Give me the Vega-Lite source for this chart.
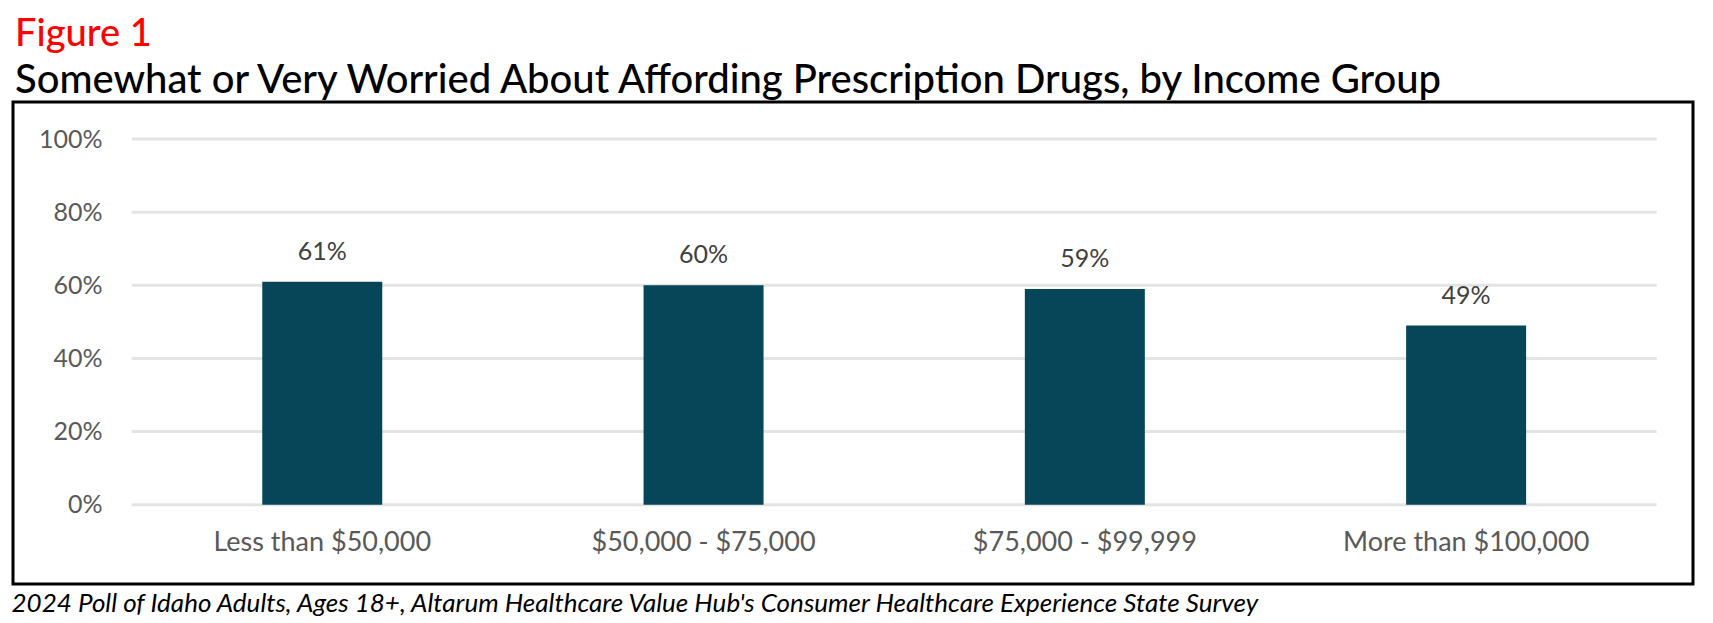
{
  "$schema": "https://vega.github.io/schema/vega-lite/v6.json",
  "autosize": {"type": "none"},
  "width": 1680,
  "height": 482,
  "padding": {"left": 13, "top": 102, "right": 20, "bottom": 39},
  "background": "white",
  "title": {
    "text": "Figure 1",
    "subtitle": "Somewhat or Very Worried About Affording Prescription Drugs, by Income Group",
    "anchor": "start",
    "frame": "group",
    "orient": "top",
    "offset": 1,
    "dx": 2,
    "font": "Lato",
    "fontSize": 38,
    "fontWeight": 500,
    "color": "#FF0000",
    "subtitleFont": "Lato",
    "subtitleFontSize": 40,
    "subtitleFontWeight": 500,
    "subtitleColor": "#000000",
    "subtitlePadding": 7
  },
  "datasets": {
    "bars": [
      {"group": "Less than $50,000", "value": 0.61},
      {"group": "$50,000 - $75,000", "value": 0.60},
      {"group": "$75,000 - $99,999", "value": 0.59},
      {"group": "More than $100,000", "value": 0.49}
    ],
    "grid": [
      {"v": 0}, {"v": 0.2}, {"v": 0.4}, {"v": 0.6}, {"v": 0.8}, {"v": 1.0}
    ]
  },
  "layer": [
    {
      "data": {"name": "grid"},
      "mark": {"type": "tick", "size": 1525, "thickness": 3, "color": "#D9D9D9", "xOffset": 190.6},
      "encoding": {
        "x": {"datum": "$50,000 - $75,000", "type": "nominal"},
        "y": {"field": "v", "type": "quantitative"}
      }
    },
    {
      "data": {"name": "bars"},
      "mark": {"type": "bar", "color": "#064658"},
      "encoding": {
        "x": {"field": "group", "type": "nominal", "sort": null},
        "y": {"field": "value", "type": "quantitative"},
        "y2": {"datum": 0}
      }
    },
    {
      "data": {"name": "bars"},
      "mark": {"type": "text", "font": "Lato", "fontSize": 25, "color": "#404040", "baseline": "alphabetic", "dy": -22},
      "encoding": {
        "x": {"field": "group", "type": "nominal", "sort": null},
        "y": {"field": "value", "type": "quantitative"},
        "text": {"field": "value", "type": "quantitative", "format": ".0%"}
      }
    }
  ],
  "encoding": {
    "x": {
      "field": "group",
      "type": "nominal",
      "sort": null,
      "scale": {
        "domain": ["Less than $50,000", "$50,000 - $75,000", "$75,000 - $99,999", "More than $100,000"],
        "paddingInner": 0.6853, "paddingOuter": 0.5457, "align": 0.599
      },
      "axis": {
        "orient": "bottom",
        "offset": -42,
        "domain": false,
        "ticks": false,
        "tickSize": 0,
        "grid": false,
        "labelPadding": 0,
        "labelBaseline": "middle",
        "labelAngle": 0,
        "labelLimit": 0,
        "labelFont": "Lato",
        "labelFontSize": 27,
        "labelColor": "#595959",
        "title": "2024 Poll of Idaho Adults, Ages 18+, Altarum Healthcare Value Hub's Consumer Healthcare Experience State Survey",
        "titleFont": "Lato",
        "titleFontSize": 26,
        "titleFontStyle": "italic",
        "titleFontWeight": "normal",
        "titleColor": "#000000",
        "titleAlign": "left",
        "titleAnchor": "start",
        "titleBaseline": "middle",
        "titleLimit": 0,
        "titleX": -2,
        "titleY": 61
      }
    },
    "y": {
      "type": "quantitative",
      "scale": {"domain": [-0.2168, 1.1012], "nice": false, "zero": false},
      "axis": {
        "orient": "left",
        "offset": -89,
        "domain": false,
        "ticks": false,
        "tickSize": 0,
        "grid": false,
        "labelPadding": 0,
        "values": [0, 0.2, 0.4, 0.6, 0.8, 1.0],
        "format": ".0%",
        "labelFont": "Lato",
        "labelFontSize": 25,
        "labelColor": "#595959",
        "labelBaseline": "middle",
        "title": null
      }
    }
  },
  "config": {
    "view": {"stroke": "#000000", "strokeWidth": 3}
  }
}
